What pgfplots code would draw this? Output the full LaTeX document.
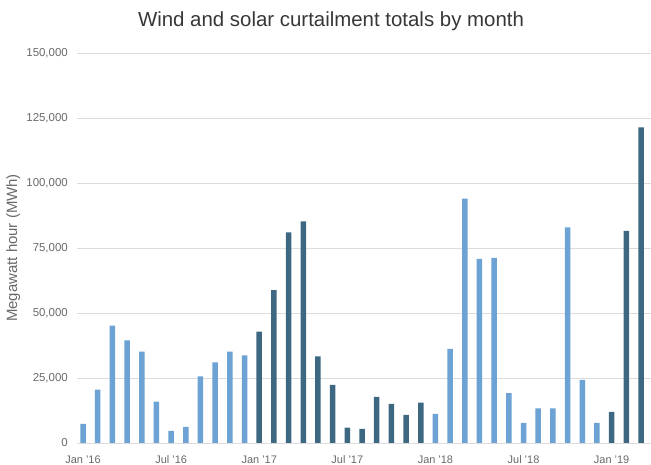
\documentclass[border=0pt]{standalone}
\usepackage{pgfplots}
\pgfplotsset{compat=1.18}
\usepackage{fontspec}
\setmainfont{Liberation Sans}
\definecolor{lightbar}{RGB}{108,162,212}
\definecolor{darkbar}{RGB}{62,104,130}
\definecolor{gridc}{RGB}{220,220,220}
\definecolor{tickc}{RGB}{105,105,105}
\definecolor{titlec}{RGB}{55,55,55}
\begin{document}
\begin{tikzpicture}
\useasboundingbox (0,0) rectangle (651bp,465bp);
\begin{axis}[
  at={(77bp,22bp)}, anchor=south west,
  width=574bp, height=390bp, scale only axis,
  xmin=-0.41, xmax=38.68, ymin=0, ymax=150000,
  axis line style={draw=none},
  tick style={draw=none},
  ymajorgrids, major grid style={gridc, line width=0.8pt},
  ytick={0,25000,...,150000},
  scaled y ticks=false,
  /pgf/number format/.cd, fixed, 1000 sep={,}, assume math mode=true,
  /pgfplots/.cd,
  yticklabel style={font=\fontsize{11.5}{13}\selectfont, text=tickc, inner sep=0pt, anchor=east, xshift=-9bp},
  xtick={0,6,12,18,24,30,36},
  xticklabels={Jan '16, Jul '16, Jan '17, Jul '17, Jan '18, Jul '18, Jan '19},
  xticklabel style={font=\fontsize{11}{12}\selectfont, text=tickc, inner sep=0pt, anchor=base, yshift=-16bp, text depth=0pt},
  ylabel={Megawatt hour (MWh)},
  ylabel style={at={(axis description cs:-0.111,0.5)}, anchor=center, font=\fontsize{15}{17}\selectfont, text=tickc},
  title={Wind and solar curtailment totals by month},
  title style={at={(axis description cs:0.4425,1)}, anchor=base, yshift=21bp, font=\fontsize{20.5}{24}\selectfont, text=titlec},
  ybar, bar width=5.5bp, bar shift=0pt,
]
\addplot[fill=lightbar, draw=none] coordinates {
(0,7400) (1,20500) (2,45100) (3,39500) (4,35100) (5,15900)
(6,4700) (7,6200) (8,25600) (9,31000) (10,35100) (11,33700)
(24,11200) (25,36200) (26,94000) (27,70800) (28,71200) (29,19200)
(30,7700) (31,13300) (32,13300) (33,82900) (34,24300) (35,7700)
};
\addplot[fill=darkbar, draw=none] coordinates {
(12,42800) (13,58800) (14,81000) (15,85200) (16,33300) (17,22400)
(18,5900) (19,5400) (20,17700) (21,15000) (22,10800) (23,15500)
(36,12000) (37,81600) (38,121400)
};
\end{axis}
\end{tikzpicture}
\end{document}
